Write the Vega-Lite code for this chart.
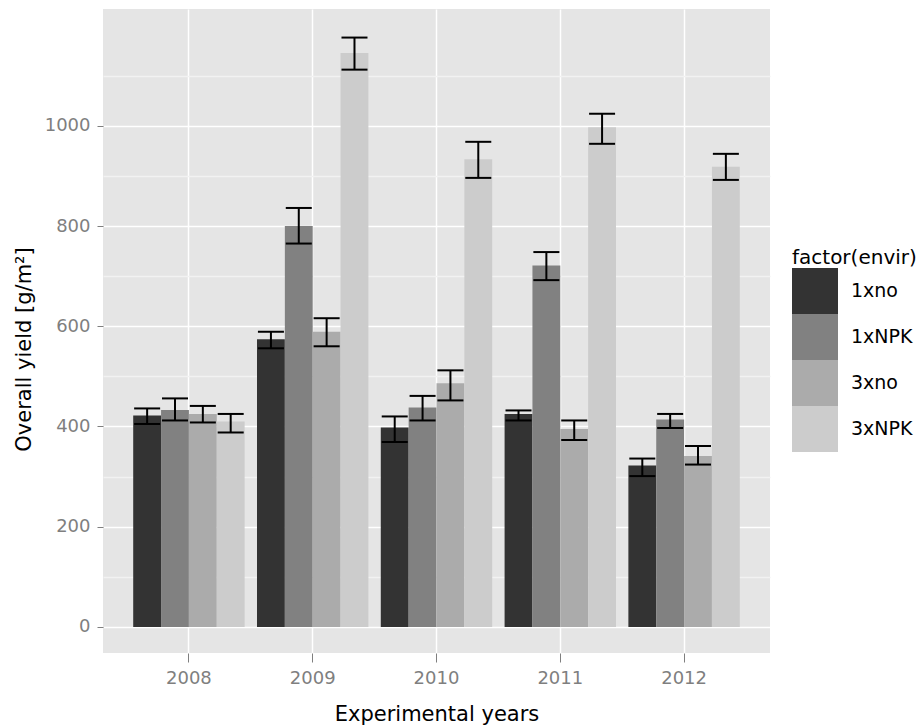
{
  "$schema": "https://vega.github.io/schema/vega-lite/v6.json",
  "width": 667,
  "height": 644,
  "autosize": "none",
  "padding": {"left": 103, "top": 9, "right": 148, "bottom": 72},
  "background": "white",
  "config": {
    "font": "DejaVu Sans",
    "view": {"fill": "#E5E5E5", "stroke": null}
  },
  "data": {
    "values": [
      {"year": "2008", "envir": "1xno", "mean": 422, "lo": 405, "hi": 436},
      {"year": "2008", "envir": "1xNPK", "mean": 433, "lo": 412, "hi": 456},
      {"year": "2008", "envir": "3xno", "mean": 425, "lo": 408, "hi": 441},
      {"year": "2008", "envir": "3xNPK", "mean": 410, "lo": 388, "hi": 425},
      {"year": "2009", "envir": "1xno", "mean": 574, "lo": 556, "hi": 589},
      {"year": "2009", "envir": "1xNPK", "mean": 800, "lo": 765, "hi": 836},
      {"year": "2009", "envir": "3xno", "mean": 589, "lo": 560, "hi": 616},
      {"year": "2009", "envir": "3xNPK", "mean": 1145, "lo": 1112, "hi": 1176},
      {"year": "2010", "envir": "1xno", "mean": 398, "lo": 369, "hi": 420},
      {"year": "2010", "envir": "1xNPK", "mean": 438, "lo": 412, "hi": 461},
      {"year": "2010", "envir": "3xno", "mean": 486, "lo": 452, "hi": 512},
      {"year": "2010", "envir": "3xNPK", "mean": 933, "lo": 896, "hi": 968},
      {"year": "2011", "envir": "1xno", "mean": 425, "lo": 412, "hi": 432},
      {"year": "2011", "envir": "1xNPK", "mean": 721, "lo": 692, "hi": 748},
      {"year": "2011", "envir": "3xno", "mean": 395, "lo": 373, "hi": 412},
      {"year": "2011", "envir": "3xNPK", "mean": 997, "lo": 964, "hi": 1024},
      {"year": "2012", "envir": "1xno", "mean": 322, "lo": 301, "hi": 336},
      {"year": "2012", "envir": "1xNPK", "mean": 414, "lo": 397, "hi": 425},
      {"year": "2012", "envir": "3xno", "mean": 341, "lo": 324, "hi": 361},
      {"year": "2012", "envir": "3xNPK", "mean": 918, "lo": 892, "hi": 944}
    ]
  },
  "encoding": {
    "x": {
      "field": "year",
      "type": "nominal",
      "scale": {"paddingInner": 0.1, "paddingOuter": 0.244},
      "axis": {
        "title": "Experimental years",
        "titleFont": "DejaVu Sans",
        "titleFontSize": 21,
        "titleFontWeight": "normal",
        "titleColor": "black",
        "titlePadding": 16,
        "labelAngle": 0,
        "labelFontSize": 18,
        "labelColor": "#7F7F7F",
        "labelPadding": 7,
        "tickColor": "#7F7F7F",
        "tickSize": 9,
        "tickWidth": 1,
        "bandPosition": 0.5,
        "domain": false,
        "grid": true,
        "gridColor": "white",
        "gridWidth": 1.5
      }
    },
    "xOffset": {
      "field": "envir",
      "type": "nominal",
      "sort": ["1xno", "1xNPK", "3xno", "3xNPK"],
      "scale": {"paddingInner": 0, "paddingOuter": 0}
    }
  },
  "layer": [
    {
      "mark": {"type": "bar"},
      "encoding": {
        "y": {
          "field": "mean",
          "type": "quantitative",
          "scale": {"domain": [-52, 1233], "nice": false, "zero": false},
          "axis": {
            "title": "Overall yield [g/m²]",
            "titleFont": "DejaVu Sans",
            "titleFontSize": 21,
            "titleFontWeight": "normal",
            "titleColor": "black",
            "titlePadding": 10,
            "titleY": 340,
            "values": [0, 100, 200, 300, 400, 500, 600, 700, 800, 900, 1000, 1100],
            "format": "d",
            "labelExpr": "datum.value % 200 === 0 ? datum.label : ''",
            "labelFontSize": 18,
            "labelColor": "#7F7F7F",
            "labelPadding": 7,
            "tickColor": "#7F7F7F",
            "tickSize": 6,
            "tickOpacity": {"condition": {"test": "datum.value % 200 === 0", "value": 1}, "value": 0},
            "domain": false,
            "grid": true,
            "gridColor": {"condition": {"test": "datum.value % 200 === 0", "value": "white"}, "value": "#F2F2F2"},
            "gridWidth": 1.5
          }
        },
        "fill": {
          "field": "envir",
          "type": "nominal",
          "sort": ["1xno", "1xNPK", "3xno", "3xNPK"],
          "scale": {"domain": ["1xno", "1xNPK", "3xno", "3xNPK"], "range": ["#333333", "#818181", "#ABABAB", "#CCCCCC"]},
          "legend": {
            "title": "factor(envir)",
            "orient": "none",
            "legendX": 689,
            "legendY": 239,
            "titleFont": "DejaVu Sans",
            "titleFontSize": 20,
            "titleFontWeight": "normal",
            "titleColor": "black",
            "titlePadding": 0,
            "symbolType": "square",
            "symbolSize": 2116,
            "symbolStrokeWidth": 0,
            "symbolOpacity": 1,
            "rowPadding": 0,
            "labelFontSize": 19,
            "labelColor": "black",
            "labelOffset": 13,
            "padding": 0
          }
        }
      }
    },
    {
      "mark": {"type": "rule", "color": "black", "strokeWidth": 2},
      "encoding": {
        "y": {"field": "lo", "type": "quantitative"},
        "y2": {"field": "hi"}
      }
    },
    {
      "mark": {"type": "tick", "color": "black", "thickness": 2, "size": 26, "opacity": 1},
      "encoding": {
        "y": {"field": "hi", "type": "quantitative"}
      }
    },
    {
      "mark": {"type": "tick", "color": "black", "thickness": 2, "size": 26, "opacity": 1},
      "encoding": {
        "y": {"field": "lo", "type": "quantitative"}
      }
    }
  ]
}
